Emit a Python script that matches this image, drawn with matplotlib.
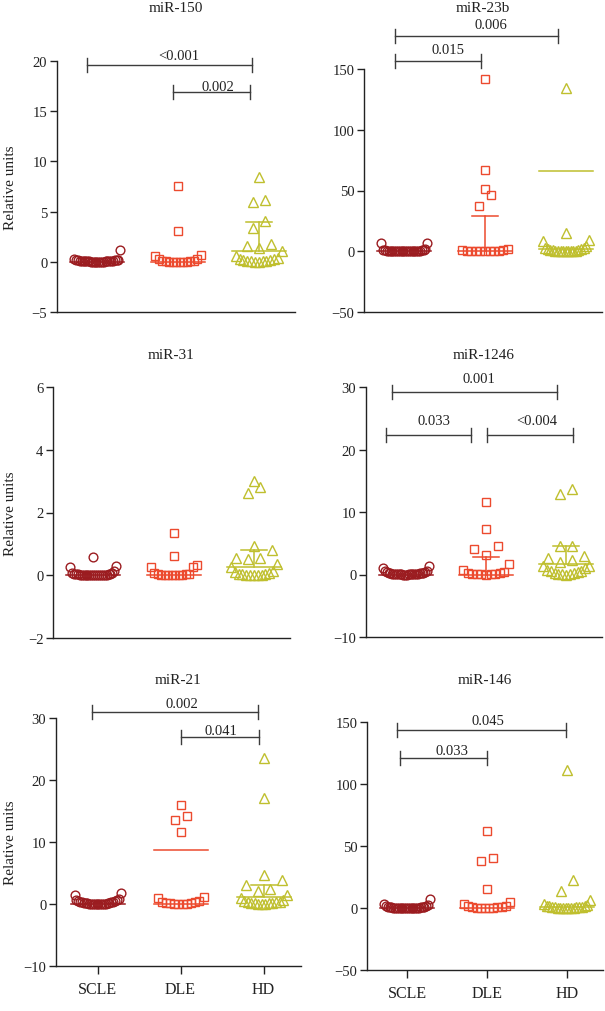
import numpy as np
import matplotlib
matplotlib.use('Agg')
import matplotlib.pyplot as plt

plt.rcParams['font.family'] = ['Liberation Serif', 'DejaVu Serif']

# ---- data -------------------------------------------------------------
groups = ['SCLE', 'DLE', 'HD']
colors = ['#9b1c20', '#ec4a2e', '#bfbf2e']
markers = ['o', 's', '^']

mir150_scle = [1.15, 0.25, 0.22, 0.2, 0.18, 0.15, 0.14, 0.12, 0.1, 0.09, 0.08, 0.07, 0.06, 0.05, 0.05, 0.04,
               0.03, 0.03, 0.02, 0.02, 0.01, 0.01, 0.01, 0.0, 0.0, 0.0]
mir150_dle = [7.55, 3.06, 0.7, 0.6, 0.3, 0.25, 0.1, 0.05, 0.04, 0.03, 0.02, 0.02, 0.01, 0.01, 0.0, 0.0]
mir150_hd = [8.4, 6.2, 6.0, 4.1, 3.4, 1.8, 1.6, 1.4, 1.05, 0.6, 0.4, 0.3, 0.25, 0.2, 0.15, 0.1, 0.08, 0.05, 0.03, 0.02, 0.0]
mir150_center = [0, 0, 1.1]
mir150_upper = [np.nan, np.nan, 4.0]
mir150_extra = [np.nan, np.nan, np.nan]
mir150_pvals = [('<0.001', -0.13, 1.92, 19.6, 1.01, 20.5), ('0.002', 0.94, 1.89, 16.9, 1.49, 17.5)]

mir23b_scle = [6.6, 6.4, 1.5, 1.2, 1.0, 0.8, 0.7, 0.5, 0.4, 0.3, 0.3, 0.2, 0.2, 0.15, 0.1, 0.1, 0.05, 0.05,
               0.03, 0.02, 0.02, 0.01, 0.01, 0.0, 0.0, 0.0]
mir23b_dle = [141.8, 67.2, 51.3, 46.1, 37.5, 2.0, 1.0, 0.8, 0.5, 0.4, 0.3, 0.2, 0.1, 0.05, 0.02, 0.0]
mir23b_hd = [134.5, 14.8, 9.6, 8.5, 4.0, 3.0, 2.5, 2.0, 1.5, 1.2, 1.0, 0.8, 0.6, 0.5, 0.4, 0.3, 0.2, 0.1, 0.05, 0.02, 0.0]
mir23b_center = [0, 0, 1.5]
mir23b_upper = [np.nan, 28.8, np.nan]
mir23b_extra = [np.nan, np.nan, 66.4]
mir23b_pvals = [('0.006', -0.11, 1.9, 177.4, 1.07, 186.3), ('0.015', -0.11, 0.95, 156.4, 0.54, 166.1)]

mir31_scle = [0.59, 0.28, 0.27, 0.13, 0.08, 0.06, 0.05, 0.04, 0.04, 0.03, 0.03, 0.02, 0.02, 0.02, 0.01, 0.01,
              0.01, 0.01, 0.0, 0.0, 0.0, 0.0, 0.0, 0.0, 0.0, 0.0]
mir31_dle = [1.35, 0.62, 0.33, 0.26, 0.26, 0.08, 0.05, 0.04, 0.03, 0.02, 0.02, 0.01, 0.01, 0.0, 0.0, 0.0]
mir31_hd = [3.01, 2.82, 2.61, 0.94, 0.8, 0.54, 0.54, 0.52, 0.37, 0.27, 0.15, 0.1, 0.06, 0.05, 0.04, 0.03, 0.02, 0.01, 0.01, 0.0, 0.0]
mir31_center = [0, 0, 0.27]
mir31_upper = [np.nan, np.nan, 0.8]
mir31_extra = [np.nan, np.nan, np.nan]
mir31_pvals = []

mir1246_scle = [1.4, 1.1, 0.6, 0.5, 0.45, 0.4, 0.3, 0.3, 0.25, 0.2, 0.2, 0.15, 0.1, 0.1, 0.08, 0.06, 0.05, 0.05,
                0.03, 0.02, 0.02, 0.01, 0.01, 0.0, 0.0, 0.0]
mir1246_dle = [11.55, 7.3, 4.6, 4.1, 3.1, 1.7, 0.77, 0.4, 0.3, 0.2, 0.15, 0.1, 0.05, 0.03, 0.01, 0.0]
mir1246_hd = [13.7, 12.9, 4.6, 4.6, 3.0, 2.7, 2.3, 2.0, 1.4, 1.3, 1.0, 0.8, 0.6, 0.5, 0.4, 0.3, 0.2, 0.15, 0.1, 0.05, 0.0]
mir1246_center = [0, 0, 1.7]
mir1246_upper = [np.nan, 2.75, 4.5]
mir1246_extra = [np.nan, np.nan, np.nan]
mir1246_pvals = [('0.001', -0.175, 1.89, 29.2, 0.91, 31.3), ('0.033', -0.25, 0.81, 22.4, 0.35, 24.6),
                 ('<0.004', 1.01, 2.09, 22.4, 1.64, 24.7)]

mir21_scle = [1.72, 1.5, 0.8, 0.7, 0.6, 0.5, 0.45, 0.4, 0.3, 0.3, 0.25, 0.2, 0.2, 0.15, 0.1, 0.1, 0.08, 0.06,
              0.05, 0.05, 0.03, 0.02, 0.01, 0.01, 0.0, 0.0]
mir21_dle = [16.0, 14.2, 13.6, 11.6, 1.2, 1.0, 0.5, 0.4, 0.3, 0.2, 0.2, 0.1, 0.05, 0.03, 0.01, 0.0]
mir21_hd = [23.5, 17.1, 4.6, 3.9, 3.1, 2.5, 2.1, 1.4, 1.0, 0.6, 0.5, 0.4, 0.3, 0.3, 0.2, 0.2, 0.1, 0.1, 0.05, 0.02, 0.0]
mir21_center = [0, 0, 1.08]
mir21_upper = [np.nan, np.nan, 3.1]
mir21_extra = [np.nan, 8.76, np.nan]
mir21_pvals = [('0.002', -0.07, 1.93, 31.0, 1.02, 32.4), ('0.041', 1.0, 1.94, 26.9, 1.48, 27.95)]

mir146_scle = [7.3, 3.5, 2.5, 2.0, 1.5, 1.2, 1.0, 0.9, 0.8, 0.6, 0.5, 0.4, 0.3, 0.3, 0.25, 0.2, 0.2, 0.15,
               0.1, 0.1, 0.05, 0.03, 0.02, 0.01, 0.0, 0.0]
mir146_dle = [62.3, 40.3, 38.2, 15.3, 5.0, 3.5, 2.0, 1.5, 1.0, 0.8, 0.5, 0.3, 0.2, 0.1, 0.05, 0.0]
mir146_hd = [111.5, 22.8, 14.0, 6.5, 3.0, 2.5, 2.0, 1.8, 1.5, 1.2, 1.0, 0.8, 0.6, 0.5, 0.4, 0.3, 0.2, 0.1, 0.05, 0.02, 0.0]
mir146_center = [0, 0, 0.5]
mir146_upper = [np.nan, np.nan, np.nan]
mir146_extra = [np.nan, np.nan, np.nan]
mir146_pvals = [('0.045', -0.125, 1.99, 143.8, 1.01, 151.6), ('0.033', -0.09, 1.0, 121.2, 0.56, 126.9)]

# ---- layout (pixel boxes: left, top, right, bottom) -------------------
W, H = 605, 1012
panels = [
    ('miR-150', [mir150_scle, mir150_dle, mir150_hd], mir150_center, mir150_upper, mir150_extra, mir150_pvals,
     (-5, 20), [-5, 0, 5, 10, 15, 20], (57, 62, 295, 313), 8),
    ('miR-23b', [mir23b_scle, mir23b_dle, mir23b_hd], mir23b_center, mir23b_upper, mir23b_extra, mir23b_pvals,
     (-50, 150), [-50, 0, 50, 100, 150], (364, 70, 602, 313), 8),
    ('miR-31', [mir31_scle, mir31_dle, mir31_hd], mir31_center, mir31_upper, mir31_extra, mir31_pvals,
     (-2, 6), [-2, 0, 2, 4, 6], (53, 388, 290, 639), 356),
    ('miR-1246', [mir1246_scle, mir1246_dle, mir1246_hd], mir1246_center, mir1246_upper, mir1246_extra, mir1246_pvals,
     (-10, 30), [-10, 0, 10, 20, 30], (366, 388, 602, 638), 356),
    ('miR-21', [mir21_scle, mir21_dle, mir21_hd], mir21_center, mir21_upper, mir21_extra, mir21_pvals,
     (-10, 30), [-10, 0, 10, 20, 30], (56, 719, 301, 967), 680),
    ('miR-146', [mir146_scle, mir146_dle, mir146_hd], mir146_center, mir146_upper, mir146_extra, mir146_pvals,
     (-50, 150), [-50, 0, 50, 100, 150], (367, 723, 603, 971), 681),
]

XLIM = (-0.5, 2.45)
ROW_PX = 12      # points closer than this (vertically) share a row
STEP_PX = 12     # horizontal spacing in a short row
ROW_W_PX = 46    # maximum row width
LINE_HW_PX = 27  # half width of median line
CAP_HW_PX = 13   # half width of error cap
TICK_PX = 7      # half height of bracket end ticks
TXT = '#222222'


def swarm(values, py, px):
    vals = np.sort(np.asarray(values, dtype=float))
    rows, cur = [], [vals[0]]
    for v in vals[1:]:
        if (v - cur[0]) * py <= ROW_PX:
            cur.append(v)
        else:
            rows.append(cur)
            cur = [v]
    rows.append(cur)
    xs, ys = [], []
    for row in rows:
        n = len(row)
        step = STEP_PX if n < 2 else min(STEP_PX, ROW_W_PX / (n - 1))
        slots = (np.arange(n) - (n - 1) / 2) * step
        order = np.argsort(np.abs(slots), kind='stable')
        for v, k in zip(row, order):
            xs.append(slots[k] / px)
            ys.append(v)
    return np.array(xs), np.array(ys)


fig = plt.figure(figsize=(W / 100, H / 100), dpi=100)

for idx, (title, data, center, upper, extra, pvals, ylim, yticks, box, title_y) in enumerate(panels):
    l, t, r, b = box
    ax = fig.add_axes([l / W, 1 - b / H, (r - l) / W, (b - t) / H])
    px = (r - l) / (XLIM[1] - XLIM[0])    # pixels per x unit
    py = (b - t) / (ylim[1] - ylim[0])    # pixels per y unit

    for i, vals in enumerate(data):
        dx, ys = swarm(vals, py, px)
        ms = 7.5 if markers[i] == '^' else 6.3
        ax.plot(i + dx, ys, linestyle='none', marker=markers[i], ms=ms, mfc='none',
                mec=colors[i], mew=1.0, zorder=2, clip_on=False)
        hw = LINE_HW_PX / px
        cw = CAP_HW_PX / px
        ax.plot([i - hw, i + hw], [center[i]] * 2, color=colors[i], lw=1.1, zorder=3)
        if not np.isnan(upper[i]):
            ax.plot([i, i], [center[i], upper[i]], color=colors[i], lw=1.1, zorder=3)
            ax.plot([i - cw, i + cw], [upper[i]] * 2, color=colors[i], lw=1.1, zorder=3)
        if not np.isnan(extra[i]):
            ax.plot([i - hw, i + hw], [extra[i]] * 2, color=colors[i], lw=1.1, zorder=3)

    for label, x1, x2, yb, lx, ly in pvals:
        dy = TICK_PX / py
        ax.plot([x1, x2], [yb, yb], color='#3c3c3c', lw=1.0, clip_on=False)
        ax.plot([x1, x1], [yb - dy, yb + dy], color='#3c3c3c', lw=1.0, clip_on=False)
        ax.plot([x2, x2], [yb - dy, yb + dy], color='#3c3c3c', lw=1.0, clip_on=False)
        ax.text(lx, ly, label, ha='center', va='center', fontsize=10.5, color=TXT, clip_on=False)

    ax.set_xlim(*XLIM)
    ax.set_ylim(*ylim)
    ax.set_yticks(yticks)
    ax.spines['top'].set_visible(False)
    ax.spines['right'].set_visible(False)
    for s in ('left', 'bottom'):
        ax.spines[s].set_color(TXT)
        ax.spines[s].set_linewidth(1.0)
    ax.tick_params(axis='y', length=5, width=1.0, color=TXT, labelsize=10.5, pad=2, labelcolor=TXT)
    if idx >= 4:
        ax.set_xticks(range(3))
        ax.set_xticklabels(groups, fontsize=11.5, color=TXT)
        ax.tick_params(axis='x', length=6, width=1.0, color=TXT, pad=5)
    else:
        ax.set_xticks([])
    if idx % 2 == 0:
        ax.set_ylabel('Relative units', fontsize=11, color=TXT)
        ax.yaxis.set_label_coords(-(l - 17) / (r - l), 0.5)
    fig.text((l + r) / 2 / W, 1 - title_y / H, title, ha='center', va='center', fontsize=11, color=TXT)

fig.savefig('out.png', dpi=100)
plt.close(fig)
